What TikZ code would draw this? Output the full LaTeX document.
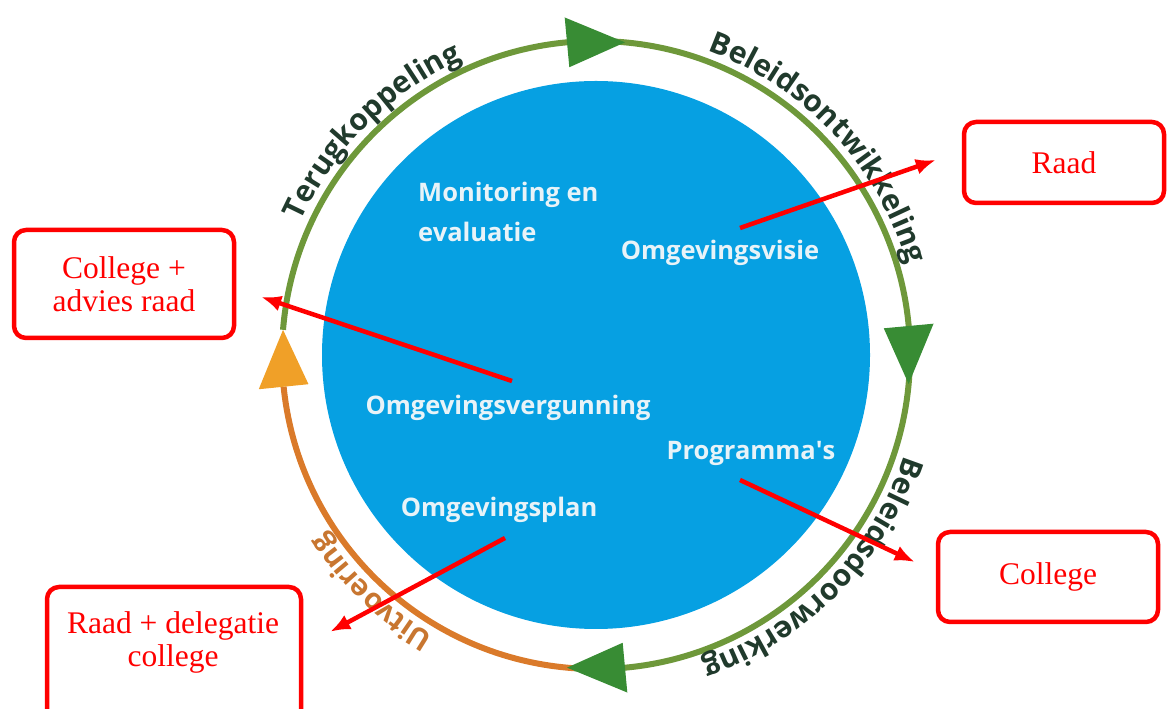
\documentclass[tikz,border=0pt]{standalone}
\usepackage{fontspec}
\setmainfont{Liberation Serif}
\newfontfamily\cyclefont{Open Sans}
\usetikzlibrary{arrows.meta,decorations.text}
\definecolor{discblue}{RGB}{6,160,226}
\definecolor{disctextcol}{RGB}{232,243,248}
\definecolor{ringgreen}{RGB}{110,152,58}
\definecolor{arrowgreen}{RGB}{56,140,52}
\definecolor{ringorange}{RGB}{218,122,42}
\definecolor{arroworange}{RGB}{240,160,40}
\definecolor{ringdark}{RGB}{32,58,44}
\definecolor{uitvoercol}{RGB}{200,118,48}
\definecolor{boxred}{RGB}{255,0,0}
\begin{document}
\begin{tikzpicture}[>={Latex[length=20bp,width=16bp]},line join=bevel,
  redbox/.style={draw=boxred,line width=4.5bp,rounded corners=12bp,text=boxred,align=center,
    font=\fontsize{31.5bp}{33bp}\selectfont,inner sep=0pt},
  disctext/.style={text=disctextcol,font=\cyclefont\bfseries\fontsize{25.5bp}{40bp}\selectfont,inner sep=0pt},
  redarrow/.style={draw=boxred,line width=4.5bp,->},
  ringtext/.style={decorate,decoration={text along path,text align=center}},
  ]
%%
\useasboundingbox (0bp,0bp) rectangle (1167bp,709bp);
\coordinate (ctr) at (596bp,354bp);
\node (disc) at (ctr) [circle,fill=discblue,minimum size=548bp,inner sep=0pt] {};
%
\draw [ringgreen,line width=6bp] ([shift={(175.4:314bp)}]ctr) arc[start angle=175.4,end angle=-94,radius=314bp];
\draw [ringorange,line width=6bp] ([shift={(266:314bp)}]ctr) arc[start angle=266,end angle=185.8,radius=314bp];
\foreach \a in {90,0,-90}
  \fill [arrowgreen] ([shift={(\a+5.3:289bp)}]ctr) -- ([shift={(\a+5.3:339bp)}]ctr) -- ([shift={(\a-5.3:314bp)}]ctr) -- cycle;
\fill [arroworange] ([shift={(185.8:289bp)}]ctr) -- ([shift={(185.8:339bp)}]ctr) -- ([shift={(175.4:314bp)}]ctr) -- cycle;
%
\path [ringtext,decoration={text color=ringdark,text={|\cyclefont\bfseries\fontsize{30bp}{30bp}\selectfont|Terugkoppeling}}]
  ([shift={(165:324bp)}]ctr) arc[start angle=165,end angle=105,radius=324bp];
\path [ringtext,decoration={text color=ringdark,text={|\cyclefont\bfseries\fontsize{30bp}{30bp}\selectfont|Beleidsontwikkeling}}]
  ([shift={(80:324bp)}]ctr) arc[start angle=80,end angle=6,radius=324bp];
\path [ringtext,decoration={text color=ringdark,text={|\cyclefont\bfseries\fontsize{30bp}{30bp}\selectfont|Beleidsdoorwerking}}]
  ([shift={(-8:324bp)}]ctr) arc[start angle=-8,end angle=-81,radius=324bp];
\path [ringtext,decoration={text color=uitvoercol,text={|\cyclefont\bfseries\fontsize{29bp}{29bp}\selectfont|Uitvoering}}]
  ([shift={(-110:324bp)}]ctr) arc[start angle=-110,end angle=-157,radius=324bp];
%
\node (txt_monitor) at (418bp,497bp) [disctext,anchor=west,align=left] {Monitoring en\\evaluatie};
\node (txt_visie) at (720bp,456bp) [disctext] {Omgevingsvisie};
\node (txt_vergunning) at (508bp,301bp) [disctext] {Omgevingsvergunning};
\node (txt_programmas) at (751bp,256bp) [disctext] {Programma\textquotesingle s};
\node (txt_plan) at (499bp,199bp) [disctext] {Omgevingsplan};
%
\node (box_raad) at (1064bp,546.5bp) [redbox,minimum width=200bp,minimum height=81bp] {Raad};
\node (box_advies) at (124bp,425bp) [redbox,minimum width=220bp,minimum height=108bp] {College +\\advies raad};
\node (box_college) at (1048bp,132bp) [redbox,minimum width=220bp,minimum height=90bp] {College};
\node (box_delegatie) at (174bp,45.5bp) [redbox,minimum width=254bp,minimum height=153bp] {};
\node (txt_delegatie) at (173bp,67bp) [redbox,draw=none] {Raad + delegatie\\college};
%
\draw [redarrow] ([shift={(20bp,25bp)}]txt_visie.center) -- ([shift={(-26bp,2.5bp)}]box_raad.west);
\draw [redarrow] ([shift={(4bp,27bp)}]txt_vergunning.center) -- ([shift={(25bp,-13bp)}]box_advies.east);
\draw [redarrow] ([shift={(-11bp,-27bp)}]txt_programmas.center) -- ([shift={(-21bp,15bp)}]box_college.west);
\draw [redarrow] ([shift={(6bp,-28bp)}]txt_plan.center) -- ([shift={(27bp,-47bp)}]box_delegatie.north east);
%
\end{tikzpicture}
\end{document}
